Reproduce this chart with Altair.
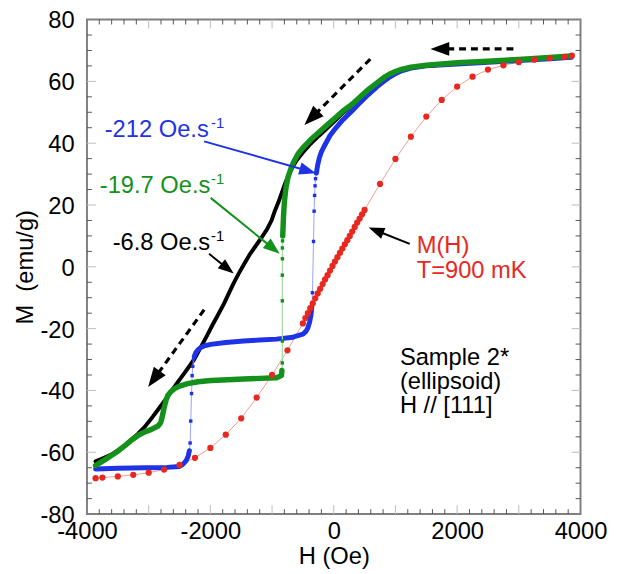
import math
import altair as alt
import pandas as pd

# ---------------- data ----------------
# black: -6.8 Oe/s sweep
black_pts = [(3850, 68.0), (3500, 67.6), (3000, 67.0), (2500, 66.4), (2000, 65.8), (1500, 65.0),
             (1250, 64.3), (1100, 63.6), (1000, 62.8), (900, 61.8), (800, 60.5), (700, 59.0),
             (565, 57.0), (400, 54.3), (299, 52.3), (150, 49.8), (32, 47.5), (-100, 45.0),
             (-235, 42.5), (-400, 39.3), (-501, 37.0), (-600, 34.5), (-661, 32.5), (-730, 29.8),
             (-795, 26.6), (-850, 23.5), (-901, 20.7), (-960, 17.8), (-1008, 15.0), (-1080, 12.2),
             (-1168, 9.5), (-1260, 6.9), (-1355, 4.2), (-1450, 1.0), (-1541, -2.2), (-1620, -5.2),
             (-1701, -8.6), (-1781, -12.0), (-1888, -16.0), (-1970, -19.0), (-2048, -22.0),
             (-2150, -25.8), (-2261, -29.9), (-2400, -33.8), (-2528, -37.3), (-2660, -41.0),
             (-2795, -44.8), (-2930, -48.4), (-3061, -51.7), (-3170, -54.0), (-3275, -55.8),
             (-3400, -58.0), (-3595, -60.7), (-3750, -62.0), (-3861, -62.9)]

# green: -19.7 Oe/s sweep (top branch, jump points, bottom branch)
green_top = [(3850, 68.2), (3500, 67.7), (3000, 67.1), (2500, 66.5), (2000, 66.0), (1500, 65.2),
             (1250, 64.6), (1100, 63.9), (1000, 63.2), (900, 62.3), (832, 61.5), (700, 59.5),
             (565, 57.4), (430, 55.0), (299, 52.6), (150, 50.4), (32, 48.3), (-100, 46.0),
             (-235, 43.6), (-380, 41.0), (-501, 38.5), (-580, 36.5), (-635, 34.5), (-690, 32.0),
             (-741, 29.0), (-775, 25.5), (-800, 21.0), (-815, 16.0), (-822, 12.5), (-827, 10.0)]
green_jump = [(-830, 8.4), (-832, 6.1), (-832, 2.6), (-833, -2.7), (-833, -11.0), (-833, -24.0),
              (-834, -31.1)]
green_bot = [(-840, -33.5), (-848, -35.2), (-928, -35.9), (-1200, -36.1), (-1461, -36.3),
             (-1800, -36.6), (-1995, -36.8), (-2200, -37.2), (-2368, -37.8), (-2500, -38.6),
             (-2581, -39.4), (-2650, -40.6), (-2688, -41.6), (-2720, -43.3), (-2752, -45.8),
             (-2780, -48.5), (-2805, -50.4), (-2848, -51.5), (-2955, -52.6), (-3061, -53.4),
             (-3160, -54.4), (-3275, -56.0), (-3380, -57.8), (-3488, -59.5), (-3600, -61.0),
             (-3701, -62.3), (-3861, -64.3)]

# blue: -212 Oe/s sweep
blue_top = [(3850, 67.8), (3500, 67.3), (3000, 66.7), (2500, 66.2), (2000, 65.6), (1500, 65.0),
            (1250, 64.3), (1099, 63.4), (1000, 62.5), (900, 61.3), (832, 60.3), (700, 58.2),
            (565, 55.8), (430, 53.2), (299, 50.5), (150, 47.6), (32, 44.9), (-60, 42.5),
            (-155, 39.0), (-200, 37.2), (-235, 35.1), (-260, 33.0), (-272, 31.5), (-280, 30.3)]
blue_jump1 = [(-288, 30.3), (-295, 28.5), (-303, 26.2), (-310, 23.1), (-318, 18.0), (-328, 8.2),
              (-345, -8.4)]
blue_mid = [(-355, -13.0), (-368, -15.5), (-390, -17.8), (-420, -19.8), (-448, -20.8),
            (-500, -21.8), (-608, -22.4), (-661, -22.8), (-928, -23.4), (-1200, -23.7),
            (-1461, -24.0), (-1750, -24.5), (-1995, -25.1), (-2100, -25.6), (-2155, -26.1),
            (-2200, -26.8), (-2235, -27.7), (-2260, -29.0)]
blue_jump2 = [(-2272, -29.9), (-2285, -32.2), (-2295, -35.2), (-2305, -41.0), (-2318, -49.9),
              (-2328, -57.0)]
blue_bot = [(-2340, -59.5), (-2360, -61.3), (-2395, -62.8), (-2450, -64.0), (-2501, -64.6),
            (-2700, -64.9), (-3061, -65.0), (-3500, -65.2), (-3861, -65.4)]

# red: equilibrium M(H) at T = 900 mK
red_pts = [(3860, 68.3), (3740, 67.9), (3500, 67.5), (3250, 67.0), (3000, 66.2), (2750, 65.2),
           (2500, 63.8), (2250, 61.5), (2000, 58.3), (1750, 54.0), (1500, 48.6), (1250, 42.1),
           (1000, 34.9), (750, 26.8), (500, 18.4), (460, 17.0), (420, 15.6), (380, 14.3),
           (340, 12.9), (300, 11.4), (260, 10.0), (220, 8.6), (180, 7.3), (140, 5.9), (100, 4.5),
           (60, 3.1), (20, 1.7), (-20, 0.3), (-60, -1.2), (-100, -2.7), (-140, -4.1),
           (-180, -5.6), (-220, -7.1), (-260, -8.6), (-300, -10.2), (-340, -11.8), (-380, -13.4),
           (-420, -15.0), (-460, -16.6), (-500, -18.3), (-750, -27.0), (-1000, -35.0),
           (-1250, -42.3), (-1500, -49.0), (-1750, -54.3), (-2000, -58.6), (-2250, -61.8),
           (-2500, -64.1), (-2750, -65.6), (-3000, -66.6), (-3250, -67.3), (-3500, -67.8),
           (-3750, -68.2), (-3860, -68.4)]

# axis tick labels
x_labels = [-4000, -2000, 0, 2000, 4000]
y_labels = [-80, -60, -40, -20, 0, 20, 40, 60, 80]

# annotations: (text, H, M, colour, size)
texts = [("-212 Oe.s", -3712, 42.0, "#1f33e6", 24), ("-1", -1990, 44.9, "#1f33e6", 15),
         ("-19.7 Oe.s", -3792, 23.8, "#13911a", 24), ("-1", -1990, 26.7, "#13911a", 15),
         ("-6.8 Oe.s", -3584, 5.3, "black", 24), ("-1", -1990, 8.5, "black", 15),
         ("M(H)", 1344, 4.6, "#e8281e", 24), ("T=900 mK", 1344, -3.7, "#e8281e", 24),
         ("Sample 2*", 1072, -31.8, "black", 24), ("(ellipsoid)", 1072, -39.6, "black", 24),
         ("H // [111]", 1072, -47.4, "black", 24)]

# arrows: (tail H, tail M, tip H, tip M, colour, dashed, head length px)
arrows = [(2912, 70.5, 1568, 70.5, "black", True, 19),
          (592, 67.2, -475, 45.9, "black", True, 20),
          (-2101, -13.9, -3008, -38.9, "black", True, 20),
          (-2101, 40.6, -288, 30.3, "#1f33e6", False, 17),
          (-1995, 22.3, -875, 4.2, "#13911a", False, 17),
          (-2021, 4.2, -1621, -2.2, "black", False, 16),
          (1232, 7.4, 565, 12.7, "black", False, 16)]

# ---------------- helpers ----------------
W, H = 500, 501
XD, YD = [-4000, 4000], [-80, 80]
SX, SY = W / 8000.0, H / 160.0

lab = "'' + datum.value"
X_AXIS = alt.Axis(values=x_labels, labelExpr=lab, labelPadding=6, labelFlush=False,
                  title="H (Oe)", titleX=W / 2, titleY=50, titleAlign="center",
                  titleBaseline="alphabetic")
Y_AXIS = alt.Axis(values=y_labels, labelExpr=lab, labelPadding=13, labelFlush=False,
                  labelOffset=1.5,
                  title="M\u00a0\u00a0(emu/g)", titleX=-55, titleY=H / 2, titleAngle=270,
                  titleAlign="center", titleBaseline="alphabetic")


def X(f="H"):
    return alt.X(f"{f}:Q", scale=alt.Scale(domain=XD, nice=False, zero=False), axis=X_AXIS)


def Y(f="M"):
    return alt.Y(f"{f}:Q", scale=alt.Scale(domain=YD, nice=False, zero=False), axis=Y_AXIS)


def frame(pts, seg=0):
    return pd.DataFrame({"H": [p[0] for p in pts], "M": [p[1] for p in pts],
                         "i": list(range(len(pts))), "seg": seg})


def line(df, color, width, **kw):
    return alt.Chart(df).mark_line(color=color, strokeWidth=width, strokeCap="round",
                                   strokeJoin="round", **kw).encode(
        x=X(), y=Y(), order="i:Q", detail="seg:N")


# ---------------- ticks (inside the frame) ----------------
xt_minor = [v for v in range(-3800, 4000, 200) if v % 1000 != 0]
xt_major = [v for v in range(-3000, 4000, 1000)]
yt_minor = [v for v in range(-75, 80, 5) if v % 20 != 0]
yt_major = [v for v in range(-60, 80, 20)]

tick_layers = []
for vals, L, col in [(xt_minor, 5, "#555555"), (xt_major, 9, "#bdbdbd")]:
    d = pd.DataFrame({"H": vals})
    tick_layers.append(alt.Chart(d).mark_rule(color=col, strokeWidth=1).encode(
        x=X(), y=alt.value(H), y2=alt.value(H - L)))
    tick_layers.append(alt.Chart(d).mark_rule(color=col, strokeWidth=1).encode(
        x=X(), y=alt.value(0), y2=alt.value(L)))
for vals, L, col in [(yt_minor, 5, "#555555"), (yt_major, 9, "#bdbdbd")]:
    d = pd.DataFrame({"M": vals})
    tick_layers.append(alt.Chart(d).mark_rule(color=col, strokeWidth=1).encode(
        y=Y(), x=alt.value(0), x2=alt.value(L)))
    tick_layers.append(alt.Chart(d).mark_rule(color=col, strokeWidth=1).encode(
        y=Y(), x=alt.value(W), x2=alt.value(W - L)))

# ---------------- curves ----------------
red_df = frame(red_pts)
red_line = line(red_df, "#f39a92", 1)
red_dots = alt.Chart(red_df).mark_circle(color="#e8281e", size=40, opacity=1).encode(x=X(), y=Y())

black_line = line(frame(black_pts), "black", 4)

blue_all = frame(blue_top + blue_jump1 + blue_mid + blue_jump2 + blue_bot)
blue_thin = line(blue_all, "#9aa3f5", 1)
blue_thick = line(pd.concat([frame(blue_top, 0), frame(blue_mid, 1), frame(blue_bot, 2)]),
                  "#1f33e6", 5)
blue_sq = alt.Chart(pd.concat([frame(blue_jump1), frame(blue_jump2)])).mark_square(
    color="#1f33e6", size=12, opacity=1).encode(x=X(), y=Y())

green_all = frame(green_top + green_jump + green_bot)
green_thin = line(green_all, "#a5d8a5", 1.2)
green_thick = line(pd.concat([frame(green_top, 0), frame(green_bot, 1)]), "#13911a", 5.5)
green_sq = alt.Chart(frame(green_jump)).mark_square(color="#13911a", size=12, opacity=1).encode(
    x=X(), y=Y())

# ---------------- arrows ----------------
dash_rows, solid_rows, head_rows = [], [], []
for k, (h0, m0, h1, m1, col, dashed, L) in enumerate(arrows):
    dxp, dyp = (h1 - h0) * SX, -(m1 - m0) * SY
    ln = math.hypot(dxp, dyp)
    f = max(0.0, 1 - (L * 0.85) / ln)
    hb, mb = h0 + (h1 - h0) * f, m0 + (m1 - m0) * f
    rows = dash_rows if dashed else solid_rows
    rows.append({"H": h0, "M": m0, "i": 0, "seg": k, "col": col})
    rows.append({"H": hb, "M": mb, "i": 1, "seg": k, "col": col})
    ang = math.degrees(math.atan2(dxp, -dyp)) % 360
    head_rows.append({"H": h1, "M": m1, "ang": ang, "sz": (L * 2) ** 2, "col": col})

dash_layer = alt.Chart(pd.DataFrame(dash_rows)).mark_line(
    strokeWidth=3.2, strokeDash=[7, 5], color="black").encode(
    x=X(), y=Y(), order="i:Q", detail="seg:N")
solid_layer = alt.Chart(pd.DataFrame(solid_rows)).mark_line(strokeWidth=2).encode(
    x=X(), y=Y(), order="i:Q", detail="seg:N", color=alt.Color("col:N", scale=None))
head_layer = alt.Chart(pd.DataFrame(head_rows)).mark_point(
    shape="M0,0L0.37,1L-0.37,1Z", filled=True, opacity=1, strokeWidth=0).encode(
    x=X(), y=Y(), angle=alt.Angle("ang:Q", scale=None), size=alt.Size("sz:Q", scale=None),
    color=alt.Color("col:N", scale=None))

# ---------------- text ----------------
text_df = pd.DataFrame(texts, columns=["t", "H", "M", "col", "fs"])
text_layers = []
for fs in sorted(text_df["fs"].unique()):
    sub = text_df[text_df["fs"] == fs]
    text_layers.append(alt.Chart(sub).mark_text(
        align="left", baseline="alphabetic", fontSize=int(fs), font="Liberation Sans").encode(
        x=X(), y=Y(), text="t:N", color=alt.Color("col:N", scale=None)))

chart = alt.layer(
    *tick_layers,
    red_line, black_line, blue_thin, blue_thick, blue_sq,
    green_thin, green_thick, green_sq, red_dots,
    dash_layer, solid_layer, head_layer, *text_layers
).properties(
    width=W, height=H,
    padding={"left": 80, "top": 8, "right": 40, "bottom": 57},
    autosize=alt.AutoSizeParams(type="none"),
).configure_view(
    stroke="#808080", strokeWidth=2
).configure_axis(
    grid=False, domain=False, ticks=False, tickSize=0,
    labelFont="Liberation Sans", labelFontSize=24, labelColor="black",
    titleFont="Liberation Sans", titleFontSize=24, titleFontWeight="normal", titleColor="black"
)

chart.save("out.html", embed_options={"renderer": "svg", "actions": False})
